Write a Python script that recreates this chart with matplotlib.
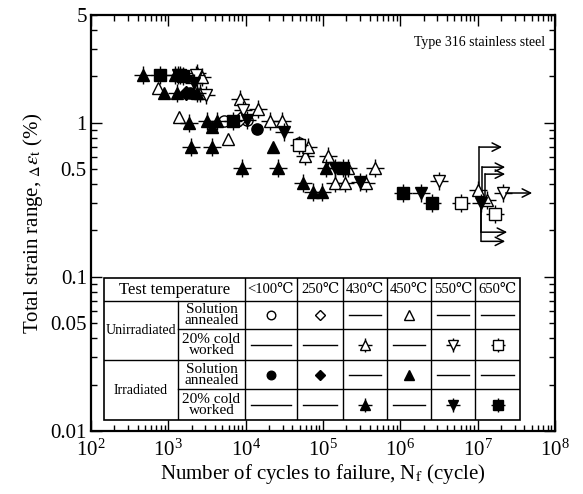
import math
import matplotlib.pyplot as plt
from matplotlib.ticker import FixedLocator, FuncFormatter, LogLocator, LogFormatterMathtext
from matplotlib.patches import Rectangle

plt.rcParams['font.family'] = ['Liberation Serif', 'DejaVu Serif']
plt.rcParams['mathtext.fontset'] = 'stix'

# --- data: cycles to failure N and total strain range (%) ---
# unirradiated, solution annealed
ua_100_N = [5300, 10400, 49000]
ua_100_e = [1.03, 1.04, 0.74]
ua_250_N = [8500]
ua_250_e = [1.05]
ua_450_N = [740, 1380, 5900]
ua_450_e = [1.68, 1.09, 0.79]
# unirradiated, 20% cold worked
uc_430_N = [2350, 2700, 2570, 8500, 14500, 20700, 29600, 58700, 64200, 116000,
            211000, 472000, 144000, 193000, 361000, 10100000, 13300000]
uc_430_e = [2.10, 1.98, 1.56, 1.43, 1.23, 1.02, 1.02, 0.61, 0.695, 0.61,
            0.51, 0.51, 0.405, 0.405, 0.405, 0.366, 0.315]
uc_550_N = [2250, 3075, 9250, 3180000, 21400000]
uc_550_e = [2.04, 1.51, 1.21, 0.42, 0.35]
uc_650_N = [49100, 6120000, 16800000]
uc_650_e = [0.72, 0.30, 0.255]
# irradiated, solution annealed
ia_100_N = [14000, 1900]
ia_100_e = [0.91, 1.55]
ia_250_N = [1700]
ia_250_e = [1.56]
ia_450_N = [880, 3675, 22600]
ia_450_e = [1.56, 0.94, 0.70]
# irradiated, 20% cold worked
ic_430_N = [471, 1220, 1300, 2350, 1850, 3170, 4265, 1970, 3675, 9000,
            26200, 55300, 74400, 97300, 110000]
ic_430_e = [2.04, 2.04, 1.56, 1.56, 1.0, 1.02, 1.02, 0.70, 0.70, 0.51,
            0.51, 0.405, 0.355, 0.355, 0.51]
ic_550_N = [1350, 2150, 10400, 31400, 144000, 302000, 1860000, 11100000]
ic_550_e = [2.04, 1.81, 1.04, 0.87, 0.51, 0.41, 0.35, 0.30]
ic_650_N = [781, 1415, 1550, 6870, 182000, 1090000, 2580000]
ic_650_e = [2.04, 2.04, 2.0, 1.02, 0.51, 0.35, 0.30]

# run-outs (no failure): start N, strain at marker, strain of arrow, arrow tip N
ro_N = [1.05e7, 1.14e7, 1.25e7, 1.11e7, 1.11e7, 2.3e7]
ro_e_from = [0.30, 0.30, 0.30, 0.30, 0.30, 0.35]
ro_e = [0.695, 0.515, 0.464, 0.195, 0.170, 0.35]
ro_tip = [2.07e7, 2.27e7, 2.27e7, 2.41e7, 2.27e7, 5.07e7]

# marker, filled, crossed
styles = {
    'ua_100': ('o', False, False), 'ua_250': ('D', False, False), 'ua_450': ('^', False, False),
    'uc_430': ('^', False, True), 'uc_550': ('v', False, True), 'uc_650': ('s', False, True),
    'ia_100': ('o', True, False), 'ia_250': ('D', True, False), 'ia_450': ('^', True, False),
    'ic_430': ('^', True, True), 'ic_550': ('v', True, True), 'ic_650': ('s', True, True),
}
series = {
    'ua_100': (ua_100_N, ua_100_e), 'ua_250': (ua_250_N, ua_250_e), 'ua_450': (ua_450_N, ua_450_e),
    'uc_430': (uc_430_N, uc_430_e), 'uc_550': (uc_550_N, uc_550_e), 'uc_650': (uc_650_N, uc_650_e),
    'ia_100': (ia_100_N, ia_100_e), 'ia_250': (ia_250_N, ia_250_e), 'ia_450': (ia_450_N, ia_450_e),
    'ic_430': (ic_430_N, ic_430_e), 'ic_550': (ic_550_N, ic_550_e), 'ic_650': (ic_650_N, ic_650_e),
}

# table contents
temps = ['<100℃', '250℃', '430℃', '450℃', '550℃', '650℃']
groups = ['Unirradiated', 'Irradiated']
subs = ['Solution\nannealed', '20% cold\nworked']
table_rows = [
    ['ua_100', 'ua_250', None, 'ua_450', None, None],
    [None, None, 'uc_430', None, 'uc_550', 'uc_650'],
    ['ia_100', 'ia_250', None, 'ia_450', None, None],
    [None, None, 'ic_430', None, 'ic_550', 'ic_650'],
]


def draw(ax, x, y, key, ms=8.5, clip=True):
    m, filled, cross = styles[key]
    if m == 'D':
        ms = ms * 0.8
    if m == 'o':
        ms = ms * 0.95
    if cross:
        ax.plot(x, y, ls='none', marker='+', ms=ms * 1.55, mew=1.0, color='black', clip_on=clip)
    ax.plot(x, y, ls='none', marker=m, ms=ms, mew=1.0, mec='black',
            mfc='black' if filled else 'white', clip_on=clip)


def minor_label(v, pos):
    # label only the 5 x 10^n minor ticks
    mant = v / 10 ** math.floor(math.log10(v) + 1e-9)
    return '%g' % v if abs(mant - 5) < 1e-6 else ''


fig = plt.figure(figsize=(5.83, 4.94), dpi=100)
ax = fig.add_axes([91 / 583, 1 - 431 / 494, 464 / 583, 416 / 494])
ax.set_xscale('log')
ax.set_yscale('log')
ax.set_xlim(1e2, 1e8)
ax.set_ylim(0.01, 5)

for N, ef, e, tip in zip(ro_N, ro_e_from, ro_e, ro_tip):
    ax.plot([N, N], [ef, e], color='black', lw=1.1)
    ax.annotate('', xy=(tip, e), xytext=(N, e),
                arrowprops=dict(arrowstyle='->,head_length=0.6,head_width=0.3', lw=1.1,
                                color='black', shrinkA=0, shrinkB=0))

for key, (N, e) in series.items():
    draw(ax, N, e, key)

# ticks
ax.xaxis.set_major_locator(LogLocator(base=10, numticks=10))
ax.xaxis.set_major_formatter(LogFormatterMathtext())
ax.xaxis.set_minor_locator(LogLocator(base=10, subs=range(2, 10), numticks=20))
ax.yaxis.set_major_locator(FixedLocator([0.01, 0.1, 1]))
ax.yaxis.set_minor_locator(FixedLocator([k * 10.0 ** p for p in (-2, -1, 0) for k in range(2, 10)
                                         if k * 10.0 ** p <= 5]))
ax.yaxis.set_major_formatter(FuncFormatter(lambda v, p: '%g' % v))
ax.yaxis.set_minor_formatter(FuncFormatter(minor_label))
ax.tick_params(which='both', direction='in', top=True, right=True, labelsize=15, width=1.0)
ax.tick_params(which='major', length=8)
ax.tick_params(which='minor', length=4)
ax.tick_params(axis='x', which='both', pad=6)
ax.tick_params(axis='y', which='both', pad=3)
for s in ax.spines.values():
    s.set_linewidth(1.6)

ax.set_xlabel(r'Number of cycles to failure, N$_{\rm f}$ (cycle)', fontsize=15, labelpad=1)
ax.set_ylabel(r'Total strain range, $_{\Delta}\varepsilon_{\rm t}$ (%)', fontsize=15, labelpad=4)
ax.text(0.978, 0.935, 'Type 316 stainless steel', transform=ax.transAxes,
        ha='right', va='center', fontsize=10)

# --- legend table ---
cols = [104, 178, 245, 297, 343, 387, 431, 475, 520]
rows = [278, 301, 329, 360, 389, 420]
tab = fig.add_axes([104 / 583, 1 - 420 / 494, 416 / 583, 142 / 494])
tab.set_xlim(104, 520)
tab.set_ylim(420, 278)
tab.axis('off')
tab.add_patch(Rectangle((104, 278), 416, 142, facecolor='white', edgecolor='black',
                        lw=1.2, clip_on=False))
lw = 1.0
tab.plot([104, 520], [301, 301], color='black', lw=lw)
tab.plot([104, 520], [360, 360], color='black', lw=lw)
tab.plot([178, 520], [329, 329], color='black', lw=lw)
tab.plot([178, 520], [389, 389], color='black', lw=lw)
tab.plot([178, 178], [301, 420], color='black', lw=lw)
for c in cols[2:-1]:
    tab.plot([c, c], [278, 420], color='black', lw=lw)

tab.text((104 + 245) / 2, (278 + 301) / 2, 'Test temperature', ha='center', va='center', fontsize=12)
for i, t in enumerate(temps):
    tab.text((cols[i + 2] + cols[i + 3]) / 2, (278 + 301) / 2, t, ha='center', va='center', fontsize=10.5)
for g, name in enumerate(groups):
    y0, y1 = rows[1 + 2 * g], rows[3 + 2 * g]
    tab.text((104 + 178) / 2, (y0 + y1) / 2, name, ha='center', va='center', fontsize=10)
for r, cells in enumerate(table_rows):
    yc = (rows[r + 1] + rows[r + 2]) / 2
    tab.text((178 + 245) / 2, yc, subs[r % 2], ha='center', va='center', fontsize=11, linespacing=0.8)
    for i, key in enumerate(cells):
        x0, x1 = cols[i + 2], cols[i + 3]
        xc = (x0 + x1) / 2
        if key is None:
            tab.plot([x0 + 6, x1 - 6], [yc, yc], color='black', lw=1.0)
        else:
            draw(tab, [xc], [yc], key, ms=6.5, clip=False)

fig.savefig('out.png', dpi=100)
